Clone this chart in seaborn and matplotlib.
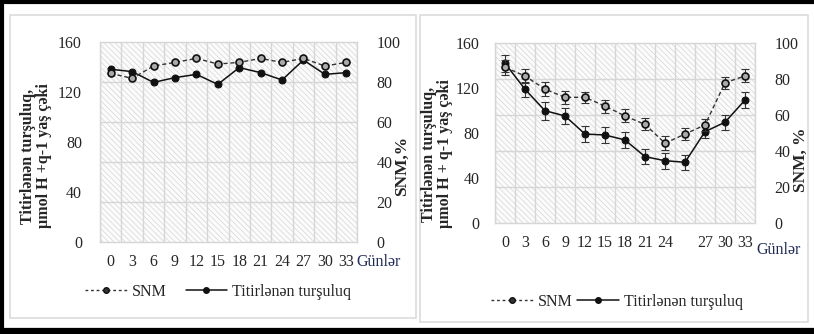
import numpy as np
import pandas as pd
import matplotlib
matplotlib.use("Agg")
import matplotlib.pyplot as plt
from matplotlib.patches import Rectangle
from matplotlib.lines import Line2D
import seaborn as sns

# --- data ---
days_a = ['0', '3', '6', '9', '12', '15', '18', '21', '24', '27', '30', '33']
snm_a = [84.3, 81.8, 88.0, 89.8, 91.8, 89.0, 89.8, 91.8, 89.8, 91.8, 88.0, 89.8]
acid_a = [138.2, 136.3, 127.7, 131.5, 134.1, 126.1, 139.5, 135.5, 129.6, 145.6, 134.1, 135.5]

days_b = ['0', '3', '6', '9', '12', '15', '18', '21', '24', '', '27', '30', '33']
snm_b = [86.6, 81.8, 74.4, 69.9, 69.9, 65.0, 59.5, 54.8, 44.3, 49.4, 54.5, 78.0, 81.8]
snm_b_err = [4.0, 3.7, 3.8, 3.5, 3.2, 3.6, 3.6, 3.3, 3.8, 3.5, 3.4, 3.3, 3.6]
acid_b = [142.2, 119.0, 99.9, 95.2, 79.1, 78.2, 73.8, 58.9, 55.3, 53.9, 81.2, 89.6, 109.4]
acid_b_err = [7.4, 6.5, 8.0, 7.5, 7.5, 7.0, 7.0, 6.7, 7.0, 6.5, 6.0, 6.5, 7.0]

sns.set_style("white")
plt.rcParams['font.family'] = ['Liberation Serif', 'DejaVu Serif']
plt.rcParams['hatch.linewidth'] = 0.45

W, H = 814, 334
fig = plt.figure(figsize=(W / 100, H / 100), dpi=100)


def fx(px):
    return px / W


def fy(py):
    return 1 - py / H


grid_c = '#d6d6d6'
fs = 11.5


def panel(rect, days, snm, acid, snm_err=None, acid_err=None, ypad=13):
    ax = fig.add_axes(rect)
    n = len(days)
    x = np.arange(n)
    ax.add_patch(Rectangle((0, 0), 1, 1, transform=ax.transAxes, facecolor='#fbfbfb',
                           edgecolor='#d2d2d2', hatch='\\' * 6, lw=0, zorder=0))
    ax.set_xlim(-0.5, n - 0.5)
    ax.set_ylim(0, 160)
    ax.set_xticks(x)
    ax.set_xticklabels(days)
    ax.set_xticks(np.arange(n + 1) - 0.5, minor=True)
    ax.set_yticks([0, 40, 80, 120, 160])
    ax.set_yticks([32, 64, 96, 128], minor=True)
    ax.grid(False)
    ax.grid(True, which='minor', color=grid_c, lw=1.0)
    ax.tick_params(axis='x', which='major', length=0, labelsize=fs, pad=9)
    ax.tick_params(axis='x', which='minor', length=5, color=grid_c, width=1)
    ax.tick_params(axis='y', which='both', length=0, labelsize=fs, pad=ypad)
    for s in ax.spines.values():
        s.set_color(grid_c)
        s.set_linewidth(1)

    ax2 = ax.twinx()
    ax2.set_ylim(0, 100)
    ax2.set_yticks([0, 20, 40, 60, 80, 100])
    ax2.tick_params(axis='y', length=0, labelsize=fs, pad=14)
    for s in ax2.spines.values():
        s.set_visible(False)

    df_a = pd.DataFrame({'x': x, 'acid': acid})
    df_s = pd.DataFrame({'x': x, 'snm': snm})
    if acid_err is not None:
        ax.errorbar(x, acid, yerr=acid_err, fmt='none', ecolor='#333333',
                    elinewidth=0.8, capsize=3, capthick=0.8, zorder=3)
        ax2.errorbar(x, snm, yerr=snm_err, fmt='none', ecolor='#333333',
                     elinewidth=0.8, capsize=3, capthick=0.8, zorder=3)
    sns.lineplot(data=df_a, x='x', y='acid', ax=ax, color='#111111', lw=1.1,
                 marker='o', markersize=5, markerfacecolor='#111111',
                 markeredgecolor='#111111', zorder=4)
    sns.lineplot(data=df_s, x='x', y='snm', ax=ax2, color='#333333', lw=1.0,
                 linestyle=(0, (3, 2)), marker='o', markersize=5,
                 markerfacecolor='#aaaaaa', markeredgecolor='#111111',
                 markeredgewidth=1.2, zorder=4)
    ax.set_xlabel('')
    ax.set_ylabel('')
    ax2.set_ylabel('')
    ax.set_xlim(-0.5, n - 0.5)
    return ax, ax2


def legend_handles():
    h1 = Line2D([], [], color='#333333', lw=1.0, linestyle=(0, (2, 2)), marker='o',
                markersize=4, markerfacecolor='#333333', markeredgecolor='#111111')
    h2 = Line2D([], [], color='#111111', lw=1.1, marker='o', markersize=4,
                markerfacecolor='#111111')
    return [h1, h2], ['SNM', 'Titirlənən turşuluq']


# left panel
axA, axA2 = panel([fx(100), fy(242), fx(257), 200 / H], days_a, snm_a, acid_a)
# right panel
axB, axB2 = panel([fx(495), fy(222.7), fx(260), 179.4 / H], days_b, snm_b, acid_b,
                  snm_b_err, acid_b_err, ypad=11)

fig.text(fx(36), fy(156), 'Titirlənən turşuluq,\nµmol H +q-1 yaş çəki', rotation=90,
         ha='center', va='center', fontsize=fs, fontweight='bold', linespacing=1.0)
fig.text(fx(437), fy(154), 'Titirlənən turşuluq,\nµmol H + q-1 yaş çəki', rotation=90,
         ha='center', va='center', fontsize=fs, fontweight='bold', linespacing=0.95)
fig.text(fx(402), fy(166), 'SNM,%', rotation=90, ha='center', va='center',
         fontsize=12.5, fontweight='bold')
fig.text(fx(801), fy(160), 'SNM, %', rotation=90, ha='center', va='center',
         fontsize=12.5, fontweight='bold')
fig.text(fx(379), fy(262), 'Günlər', ha='center', va='center', fontsize=fs,
         color='#1f2a5c')
fig.text(fx(779), fy(250), 'Günlər', ha='center', va='center', fontsize=fs,
         color='#1f2a5c')

hs, ls = legend_handles()
fig.legend(hs, ls, loc='center', bbox_to_anchor=(fx(218), fy(292)), ncol=2,
           frameon=False, fontsize=fs, handlelength=2.6, columnspacing=1.2,
           handletextpad=0.3)
fig.legend(hs, ls, loc='center', bbox_to_anchor=(fx(617), fy(302)), ncol=2,
           frameon=False, fontsize=fs, handlelength=2.6, columnspacing=0.3,
           handletextpad=0.3)

# panel borders
fig.patches.append(Rectangle((fx(10), fy(318)), fx(406), (318 - 15) / H,
                             transform=fig.transFigure, fill=False,
                             edgecolor='#dcdcdc', lw=1.2))
fig.patches.append(Rectangle((fx(420), fy(322)), fx(388), (322 - 15) / H,
                             transform=fig.transFigure, fill=False,
                             edgecolor='#dcdcdc', lw=1.2))
# outer black frame (top, left, bottom)
fig.lines.append(Line2D([0, 1], [fy(1.5), fy(1.5)], transform=fig.transFigure,
                        color='black', lw=3))
fig.lines.append(Line2D([fx(1.5), fx(1.5)], [0, 1], transform=fig.transFigure,
                        color='black', lw=3))
fig.lines.append(Line2D([0, 1], [fy(331), fy(331)], transform=fig.transFigure,
                        color='black', lw=4.5))

fig.savefig('out.png', dpi=100)
